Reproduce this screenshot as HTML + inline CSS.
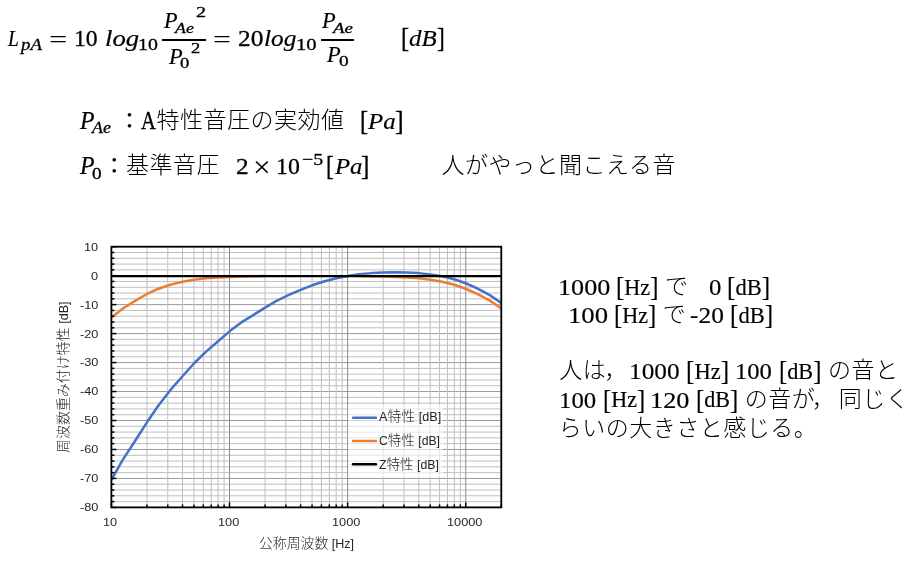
<!DOCTYPE html>
<html lang="ja"><head><meta charset="utf-8"><title>A特性音圧レベル</title>
<style>
html,body{margin:0;padding:0;background:#fff;}
body{width:924px;height:582px;position:relative;overflow:hidden;color:#000;
 font-family:"Liberation Serif","Noto Sans CJK JP",serif;}
#chart{position:absolute;left:0;top:0;}
.t{position:absolute;white-space:pre;line-height:1;transform-origin:0 0;color:#000;}
.it{font-family:"Liberation Serif","DejaVu Serif",serif;font-style:italic;}
.rm{font-family:"Liberation Serif","DejaVu Serif",serif;}
.jp{font-family:"Noto Sans CJK JP","Liberation Sans",sans-serif;font-weight:300;}
.br{font-size:1.12em;position:relative;top:0.04em;}
.cm{position:relative;left:-0.09em;}
.sa{font-family:"Liberation Sans","DejaVu Sans",sans-serif;color:#262626;}
.cj{font-family:"Noto Sans CJK JP","Liberation Sans",sans-serif;font-weight:300;font-size:1.11em;}
.bar{position:absolute;height:1.7px;background:#000;}
#txt{position:absolute;left:0;top:0;width:924px;height:582px;filter:grayscale(1);}
</style></head><body>
<svg id="chart" width="924" height="582" viewBox="0 0 924 582">
<g shape-rendering="auto"><line x1="111.4" x2="501.3" y1="246.70" y2="246.70" stroke="#9a9a9a" stroke-width="1"/><line x1="111.4" x2="501.3" y1="252.49" y2="252.49" stroke="#bfbfbf" stroke-width="1"/><line x1="111.4" x2="501.3" y1="258.29" y2="258.29" stroke="#bfbfbf" stroke-width="1"/><line x1="111.4" x2="501.3" y1="264.08" y2="264.08" stroke="#bfbfbf" stroke-width="1"/><line x1="111.4" x2="501.3" y1="269.87" y2="269.87" stroke="#bfbfbf" stroke-width="1"/><line x1="111.4" x2="501.3" y1="275.67" y2="275.67" stroke="#9a9a9a" stroke-width="1"/><line x1="111.4" x2="501.3" y1="281.46" y2="281.46" stroke="#bfbfbf" stroke-width="1"/><line x1="111.4" x2="501.3" y1="287.25" y2="287.25" stroke="#bfbfbf" stroke-width="1"/><line x1="111.4" x2="501.3" y1="293.05" y2="293.05" stroke="#bfbfbf" stroke-width="1"/><line x1="111.4" x2="501.3" y1="298.84" y2="298.84" stroke="#bfbfbf" stroke-width="1"/><line x1="111.4" x2="501.3" y1="304.63" y2="304.63" stroke="#9a9a9a" stroke-width="1"/><line x1="111.4" x2="501.3" y1="310.43" y2="310.43" stroke="#bfbfbf" stroke-width="1"/><line x1="111.4" x2="501.3" y1="316.22" y2="316.22" stroke="#bfbfbf" stroke-width="1"/><line x1="111.4" x2="501.3" y1="322.01" y2="322.01" stroke="#bfbfbf" stroke-width="1"/><line x1="111.4" x2="501.3" y1="327.81" y2="327.81" stroke="#bfbfbf" stroke-width="1"/><line x1="111.4" x2="501.3" y1="333.60" y2="333.60" stroke="#9a9a9a" stroke-width="1"/><line x1="111.4" x2="501.3" y1="339.39" y2="339.39" stroke="#bfbfbf" stroke-width="1"/><line x1="111.4" x2="501.3" y1="345.19" y2="345.19" stroke="#bfbfbf" stroke-width="1"/><line x1="111.4" x2="501.3" y1="350.98" y2="350.98" stroke="#bfbfbf" stroke-width="1"/><line x1="111.4" x2="501.3" y1="356.77" y2="356.77" stroke="#bfbfbf" stroke-width="1"/><line x1="111.4" x2="501.3" y1="362.57" y2="362.57" stroke="#9a9a9a" stroke-width="1"/><line x1="111.4" x2="501.3" y1="368.36" y2="368.36" stroke="#bfbfbf" stroke-width="1"/><line x1="111.4" x2="501.3" y1="374.15" y2="374.15" stroke="#bfbfbf" stroke-width="1"/><line x1="111.4" x2="501.3" y1="379.95" y2="379.95" stroke="#bfbfbf" stroke-width="1"/><line x1="111.4" x2="501.3" y1="385.74" y2="385.74" stroke="#bfbfbf" stroke-width="1"/><line x1="111.4" x2="501.3" y1="391.53" y2="391.53" stroke="#9a9a9a" stroke-width="1"/><line x1="111.4" x2="501.3" y1="397.33" y2="397.33" stroke="#bfbfbf" stroke-width="1"/><line x1="111.4" x2="501.3" y1="403.12" y2="403.12" stroke="#bfbfbf" stroke-width="1"/><line x1="111.4" x2="501.3" y1="408.91" y2="408.91" stroke="#bfbfbf" stroke-width="1"/><line x1="111.4" x2="501.3" y1="414.71" y2="414.71" stroke="#bfbfbf" stroke-width="1"/><line x1="111.4" x2="501.3" y1="420.50" y2="420.50" stroke="#9a9a9a" stroke-width="1"/><line x1="111.4" x2="501.3" y1="426.29" y2="426.29" stroke="#bfbfbf" stroke-width="1"/><line x1="111.4" x2="501.3" y1="432.09" y2="432.09" stroke="#bfbfbf" stroke-width="1"/><line x1="111.4" x2="501.3" y1="437.88" y2="437.88" stroke="#bfbfbf" stroke-width="1"/><line x1="111.4" x2="501.3" y1="443.67" y2="443.67" stroke="#bfbfbf" stroke-width="1"/><line x1="111.4" x2="501.3" y1="449.47" y2="449.47" stroke="#9a9a9a" stroke-width="1"/><line x1="111.4" x2="501.3" y1="455.26" y2="455.26" stroke="#bfbfbf" stroke-width="1"/><line x1="111.4" x2="501.3" y1="461.05" y2="461.05" stroke="#bfbfbf" stroke-width="1"/><line x1="111.4" x2="501.3" y1="466.85" y2="466.85" stroke="#bfbfbf" stroke-width="1"/><line x1="111.4" x2="501.3" y1="472.64" y2="472.64" stroke="#bfbfbf" stroke-width="1"/><line x1="111.4" x2="501.3" y1="478.43" y2="478.43" stroke="#9a9a9a" stroke-width="1"/><line x1="111.4" x2="501.3" y1="484.23" y2="484.23" stroke="#bfbfbf" stroke-width="1"/><line x1="111.4" x2="501.3" y1="490.02" y2="490.02" stroke="#bfbfbf" stroke-width="1"/><line x1="111.4" x2="501.3" y1="495.81" y2="495.81" stroke="#bfbfbf" stroke-width="1"/><line x1="111.4" x2="501.3" y1="501.61" y2="501.61" stroke="#bfbfbf" stroke-width="1"/><line x1="111.4" x2="501.3" y1="507.40" y2="507.40" stroke="#9a9a9a" stroke-width="1"/><line y1="246.7" y2="507.4" x1="111.40" x2="111.40" stroke="#8c8c8c" stroke-width="1"/><line y1="246.7" y2="507.4" x1="146.96" x2="146.96" stroke="#bfbfbf" stroke-width="1"/><line y1="246.7" y2="507.4" x1="167.76" x2="167.76" stroke="#bfbfbf" stroke-width="1"/><line y1="246.7" y2="507.4" x1="182.51" x2="182.51" stroke="#bfbfbf" stroke-width="1"/><line y1="246.7" y2="507.4" x1="193.96" x2="193.96" stroke="#bfbfbf" stroke-width="1"/><line y1="246.7" y2="507.4" x1="203.31" x2="203.31" stroke="#bfbfbf" stroke-width="1"/><line y1="246.7" y2="507.4" x1="211.22" x2="211.22" stroke="#bfbfbf" stroke-width="1"/><line y1="246.7" y2="507.4" x1="218.07" x2="218.07" stroke="#bfbfbf" stroke-width="1"/><line y1="246.7" y2="507.4" x1="224.11" x2="224.11" stroke="#bfbfbf" stroke-width="1"/><line y1="246.7" y2="507.4" x1="229.51" x2="229.51" stroke="#8c8c8c" stroke-width="1"/><line y1="246.7" y2="507.4" x1="265.07" x2="265.07" stroke="#bfbfbf" stroke-width="1"/><line y1="246.7" y2="507.4" x1="285.87" x2="285.87" stroke="#bfbfbf" stroke-width="1"/><line y1="246.7" y2="507.4" x1="300.63" x2="300.63" stroke="#bfbfbf" stroke-width="1"/><line y1="246.7" y2="507.4" x1="312.07" x2="312.07" stroke="#bfbfbf" stroke-width="1"/><line y1="246.7" y2="507.4" x1="321.43" x2="321.43" stroke="#bfbfbf" stroke-width="1"/><line y1="246.7" y2="507.4" x1="329.33" x2="329.33" stroke="#bfbfbf" stroke-width="1"/><line y1="246.7" y2="507.4" x1="336.18" x2="336.18" stroke="#bfbfbf" stroke-width="1"/><line y1="246.7" y2="507.4" x1="342.22" x2="342.22" stroke="#bfbfbf" stroke-width="1"/><line y1="246.7" y2="507.4" x1="347.63" x2="347.63" stroke="#8c8c8c" stroke-width="1"/><line y1="246.7" y2="507.4" x1="383.19" x2="383.19" stroke="#bfbfbf" stroke-width="1"/><line y1="246.7" y2="507.4" x1="403.98" x2="403.98" stroke="#bfbfbf" stroke-width="1"/><line y1="246.7" y2="507.4" x1="418.74" x2="418.74" stroke="#bfbfbf" stroke-width="1"/><line y1="246.7" y2="507.4" x1="430.19" x2="430.19" stroke="#bfbfbf" stroke-width="1"/><line y1="246.7" y2="507.4" x1="439.54" x2="439.54" stroke="#bfbfbf" stroke-width="1"/><line y1="246.7" y2="507.4" x1="447.45" x2="447.45" stroke="#bfbfbf" stroke-width="1"/><line y1="246.7" y2="507.4" x1="454.30" x2="454.30" stroke="#bfbfbf" stroke-width="1"/><line y1="246.7" y2="507.4" x1="460.34" x2="460.34" stroke="#bfbfbf" stroke-width="1"/><line y1="246.7" y2="507.4" x1="465.74" x2="465.74" stroke="#8c8c8c" stroke-width="1"/><line y1="246.7" y2="507.4" x1="501.30" x2="501.30" stroke="#bfbfbf" stroke-width="1"/></g>
<clipPath id="plot"><rect x="111.4" y="246.7" width="390.50" height="260.70"/></clipPath>
<g fill="none" stroke-linejoin="round" stroke-linecap="round" clip-path="url(#plot)">
<polyline points="111.40,479.94 122.85,459.67 135.51,440.26 146.96,422.30 158.40,405.50 170.26,390.15 182.51,376.24 193.96,363.50 205.81,351.91 218.07,341.19 229.51,331.34 240.96,322.65 253.62,314.83 265.07,307.59 276.52,300.93 288.37,295.13 300.63,289.92 312.07,285.29 323.93,281.52 336.18,278.33 347.63,276.02 359.08,274.28 371.74,273.12 383.19,272.54 394.63,272.25 406.49,272.54 418.74,273.12 430.19,274.57 442.04,276.31 454.30,279.20 465.74,283.26 477.19,288.47 489.85,295.13 501.30,302.96" stroke="#4472c4" stroke-width="2.5"/>
<polyline points="111.40,317.44 122.85,308.46 135.51,300.64 146.96,293.98 158.40,288.76 170.26,284.71 182.51,281.81 193.96,279.78 205.81,278.33 218.07,277.47 229.51,276.89 240.96,276.60 253.62,276.31 265.07,276.02" stroke="#ed7d31" stroke-width="2.5"/>
<polyline points="359.08,276.02 371.74,276.31 383.19,276.60 394.63,276.89 406.49,277.47 418.74,278.33 430.19,279.78 442.04,281.81 454.30,284.71 465.74,288.76 477.19,293.98 489.85,300.64 501.30,308.46" stroke="#ed7d31" stroke-width="2.5"/>
<line x1="111.4" x2="501.3" y1="276.05" y2="276.05" stroke="#000" stroke-width="2.35" stroke-linecap="butt"/>
</g>
<rect x="348" y="405" width="95" height="72" fill="#fff" fill-opacity="0.6"/>
<g stroke-width="2.4" stroke-linecap="round">
<line x1="353" x2="376" y1="417.7" y2="417.7" stroke="#4472c4"/>
<line x1="353" x2="376" y1="441" y2="441" stroke="#ed7d31"/>
<line x1="353" x2="376" y1="464.2" y2="464.2" stroke="#000"/>
</g>
<g><line x1="111.4" x2="116.4" y1="246.70" y2="246.70" stroke="#000" stroke-width="1.5"/><line x1="111.4" x2="114.4" y1="252.49" y2="252.49" stroke="#000" stroke-width="1.5"/><line x1="111.4" x2="114.4" y1="258.29" y2="258.29" stroke="#000" stroke-width="1.5"/><line x1="111.4" x2="114.4" y1="264.08" y2="264.08" stroke="#000" stroke-width="1.5"/><line x1="111.4" x2="114.4" y1="269.87" y2="269.87" stroke="#000" stroke-width="1.5"/><line x1="111.4" x2="116.4" y1="275.67" y2="275.67" stroke="#000" stroke-width="1.5"/><line x1="111.4" x2="114.4" y1="281.46" y2="281.46" stroke="#000" stroke-width="1.5"/><line x1="111.4" x2="114.4" y1="287.25" y2="287.25" stroke="#000" stroke-width="1.5"/><line x1="111.4" x2="114.4" y1="293.05" y2="293.05" stroke="#000" stroke-width="1.5"/><line x1="111.4" x2="114.4" y1="298.84" y2="298.84" stroke="#000" stroke-width="1.5"/><line x1="111.4" x2="116.4" y1="304.63" y2="304.63" stroke="#000" stroke-width="1.5"/><line x1="111.4" x2="114.4" y1="310.43" y2="310.43" stroke="#000" stroke-width="1.5"/><line x1="111.4" x2="114.4" y1="316.22" y2="316.22" stroke="#000" stroke-width="1.5"/><line x1="111.4" x2="114.4" y1="322.01" y2="322.01" stroke="#000" stroke-width="1.5"/><line x1="111.4" x2="114.4" y1="327.81" y2="327.81" stroke="#000" stroke-width="1.5"/><line x1="111.4" x2="116.4" y1="333.60" y2="333.60" stroke="#000" stroke-width="1.5"/><line x1="111.4" x2="114.4" y1="339.39" y2="339.39" stroke="#000" stroke-width="1.5"/><line x1="111.4" x2="114.4" y1="345.19" y2="345.19" stroke="#000" stroke-width="1.5"/><line x1="111.4" x2="114.4" y1="350.98" y2="350.98" stroke="#000" stroke-width="1.5"/><line x1="111.4" x2="114.4" y1="356.77" y2="356.77" stroke="#000" stroke-width="1.5"/><line x1="111.4" x2="116.4" y1="362.57" y2="362.57" stroke="#000" stroke-width="1.5"/><line x1="111.4" x2="114.4" y1="368.36" y2="368.36" stroke="#000" stroke-width="1.5"/><line x1="111.4" x2="114.4" y1="374.15" y2="374.15" stroke="#000" stroke-width="1.5"/><line x1="111.4" x2="114.4" y1="379.95" y2="379.95" stroke="#000" stroke-width="1.5"/><line x1="111.4" x2="114.4" y1="385.74" y2="385.74" stroke="#000" stroke-width="1.5"/><line x1="111.4" x2="116.4" y1="391.53" y2="391.53" stroke="#000" stroke-width="1.5"/><line x1="111.4" x2="114.4" y1="397.33" y2="397.33" stroke="#000" stroke-width="1.5"/><line x1="111.4" x2="114.4" y1="403.12" y2="403.12" stroke="#000" stroke-width="1.5"/><line x1="111.4" x2="114.4" y1="408.91" y2="408.91" stroke="#000" stroke-width="1.5"/><line x1="111.4" x2="114.4" y1="414.71" y2="414.71" stroke="#000" stroke-width="1.5"/><line x1="111.4" x2="116.4" y1="420.50" y2="420.50" stroke="#000" stroke-width="1.5"/><line x1="111.4" x2="114.4" y1="426.29" y2="426.29" stroke="#000" stroke-width="1.5"/><line x1="111.4" x2="114.4" y1="432.09" y2="432.09" stroke="#000" stroke-width="1.5"/><line x1="111.4" x2="114.4" y1="437.88" y2="437.88" stroke="#000" stroke-width="1.5"/><line x1="111.4" x2="114.4" y1="443.67" y2="443.67" stroke="#000" stroke-width="1.5"/><line x1="111.4" x2="116.4" y1="449.47" y2="449.47" stroke="#000" stroke-width="1.5"/><line x1="111.4" x2="114.4" y1="455.26" y2="455.26" stroke="#000" stroke-width="1.5"/><line x1="111.4" x2="114.4" y1="461.05" y2="461.05" stroke="#000" stroke-width="1.5"/><line x1="111.4" x2="114.4" y1="466.85" y2="466.85" stroke="#000" stroke-width="1.5"/><line x1="111.4" x2="114.4" y1="472.64" y2="472.64" stroke="#000" stroke-width="1.5"/><line x1="111.4" x2="116.4" y1="478.43" y2="478.43" stroke="#000" stroke-width="1.5"/><line x1="111.4" x2="114.4" y1="484.23" y2="484.23" stroke="#000" stroke-width="1.5"/><line x1="111.4" x2="114.4" y1="490.02" y2="490.02" stroke="#000" stroke-width="1.5"/><line x1="111.4" x2="114.4" y1="495.81" y2="495.81" stroke="#000" stroke-width="1.5"/><line x1="111.4" x2="114.4" y1="501.61" y2="501.61" stroke="#000" stroke-width="1.5"/><line x1="111.4" x2="116.4" y1="507.40" y2="507.40" stroke="#000" stroke-width="1.5"/><line y1="507.4" y2="502.4" x1="111.40" x2="111.40" stroke="#000" stroke-width="1.5"/><line y1="507.4" y2="504.4" x1="146.96" x2="146.96" stroke="#000" stroke-width="1.5"/><line y1="507.4" y2="504.4" x1="167.76" x2="167.76" stroke="#000" stroke-width="1.5"/><line y1="507.4" y2="504.4" x1="182.51" x2="182.51" stroke="#000" stroke-width="1.5"/><line y1="507.4" y2="504.4" x1="193.96" x2="193.96" stroke="#000" stroke-width="1.5"/><line y1="507.4" y2="504.4" x1="203.31" x2="203.31" stroke="#000" stroke-width="1.5"/><line y1="507.4" y2="504.4" x1="211.22" x2="211.22" stroke="#000" stroke-width="1.5"/><line y1="507.4" y2="504.4" x1="218.07" x2="218.07" stroke="#000" stroke-width="1.5"/><line y1="507.4" y2="504.4" x1="224.11" x2="224.11" stroke="#000" stroke-width="1.5"/><line y1="507.4" y2="502.4" x1="229.51" x2="229.51" stroke="#000" stroke-width="1.5"/><line y1="507.4" y2="504.4" x1="265.07" x2="265.07" stroke="#000" stroke-width="1.5"/><line y1="507.4" y2="504.4" x1="285.87" x2="285.87" stroke="#000" stroke-width="1.5"/><line y1="507.4" y2="504.4" x1="300.63" x2="300.63" stroke="#000" stroke-width="1.5"/><line y1="507.4" y2="504.4" x1="312.07" x2="312.07" stroke="#000" stroke-width="1.5"/><line y1="507.4" y2="504.4" x1="321.43" x2="321.43" stroke="#000" stroke-width="1.5"/><line y1="507.4" y2="504.4" x1="329.33" x2="329.33" stroke="#000" stroke-width="1.5"/><line y1="507.4" y2="504.4" x1="336.18" x2="336.18" stroke="#000" stroke-width="1.5"/><line y1="507.4" y2="504.4" x1="342.22" x2="342.22" stroke="#000" stroke-width="1.5"/><line y1="507.4" y2="502.4" x1="347.63" x2="347.63" stroke="#000" stroke-width="1.5"/><line y1="507.4" y2="504.4" x1="383.19" x2="383.19" stroke="#000" stroke-width="1.5"/><line y1="507.4" y2="504.4" x1="403.98" x2="403.98" stroke="#000" stroke-width="1.5"/><line y1="507.4" y2="504.4" x1="418.74" x2="418.74" stroke="#000" stroke-width="1.5"/><line y1="507.4" y2="504.4" x1="430.19" x2="430.19" stroke="#000" stroke-width="1.5"/><line y1="507.4" y2="504.4" x1="439.54" x2="439.54" stroke="#000" stroke-width="1.5"/><line y1="507.4" y2="504.4" x1="447.45" x2="447.45" stroke="#000" stroke-width="1.5"/><line y1="507.4" y2="504.4" x1="454.30" x2="454.30" stroke="#000" stroke-width="1.5"/><line y1="507.4" y2="504.4" x1="460.34" x2="460.34" stroke="#000" stroke-width="1.5"/><line y1="507.4" y2="502.4" x1="465.74" x2="465.74" stroke="#000" stroke-width="1.5"/><line y1="507.4" y2="504.4" x1="501.30" x2="501.30" stroke="#000" stroke-width="1.5"/></g>
<rect x="111.4" y="246.7" width="389.90" height="260.70" fill="none" stroke="#000" stroke-width="1.8"/>
</svg>
<div id="txt">
<div class="bar" style="left:162px;top:38.9px;width:43.9px"></div><div class="bar" style="left:321px;top:38.9px;width:32.9px"></div>
<!-- equation -->
<span class="t it" style="left:8.1px;top:25.88px;font-size:24.0px;transform:scaleX(0.808);-webkit-text-stroke:0.22px #000;">L</span>
<span class="t it" style="left:21.11px;top:36.3px;font-size:17.0px;transform:scaleX(1.105);-webkit-text-stroke:0.3px #000;">pA</span>
<span class="t rm" style="left:48.91px;top:26.8px;font-size:24.0px;transform:scaleX(1.351);">=</span>
<span class="t rm" style="left:74.33px;top:25.73px;font-size:24.0px;transform:scaleX(0.984);-webkit-text-stroke:0.32px #000;">10</span>
<span class="t it" style="left:105.41px;top:25.83px;font-size:24.0px;transform:scaleX(1.11);-webkit-text-stroke:0.22px #000;">log</span>
<span class="t rm" style="left:138.25px;top:36.45px;font-size:17.0px;transform:scaleX(1.167);-webkit-text-stroke:0.3px #000;">10</span>
<span class="t it" style="left:163.73px;top:8.12px;font-size:24.0px;transform:scaleX(0.926);-webkit-text-stroke:0.22px #000;">P</span>
<span class="t it" style="left:174.69px;top:20.5px;font-size:15.0px;transform:scaleX(1.188);-webkit-text-stroke:0.3px #000;">Ae</span>
<span class="t rm" style="left:196.03px;top:5.18px;font-size:15.0px;transform:scaleX(1.344);-webkit-text-stroke:0.3px #000;">2</span>
<span class="t it" style="left:168.83px;top:43.97px;font-size:24.0px;transform:scaleX(0.933);-webkit-text-stroke:0.22px #000;">P</span>
<span class="t rm" style="left:180.38px;top:55.75px;font-size:15.0px;transform:scaleX(1.246);-webkit-text-stroke:0.3px #000;">0</span>
<span class="t rm" style="left:191.28px;top:41.28px;font-size:15.0px;transform:scaleX(1.232);-webkit-text-stroke:0.3px #000;">2</span>
<span class="t rm" style="left:212.93px;top:26.8px;font-size:24.0px;transform:scaleX(1.333);">=</span>
<span class="t rm" style="left:237.54px;top:25.62px;font-size:24.0px;transform:scaleX(1.056);-webkit-text-stroke:0.32px #000;">20</span>
<span class="t it" style="left:263.88px;top:25.83px;font-size:24.0px;transform:scaleX(1.054);-webkit-text-stroke:0.22px #000;">log</span>
<span class="t rm" style="left:295.88px;top:36.4px;font-size:17.0px;transform:scaleX(1.213);-webkit-text-stroke:0.3px #000;">10</span>
<span class="t it" style="left:322.23px;top:8.23px;font-size:24.0px;transform:scaleX(0.933);-webkit-text-stroke:0.22px #000;">P</span>
<span class="t it" style="left:333.24px;top:20.55px;font-size:15.0px;transform:scaleX(1.255);-webkit-text-stroke:0.3px #000;">Ae</span>
<span class="t it" style="left:327.03px;top:42.02px;font-size:24.0px;transform:scaleX(0.933);-webkit-text-stroke:0.22px #000;">P</span>
<span class="t rm" style="left:338.85px;top:53.95px;font-size:15.0px;transform:scaleX(1.292);-webkit-text-stroke:0.3px #000;">0</span>
<span class="t rm" style="left:400.8px;top:25.1px;font-size:27.0px;transform:scaleX(0.9);-webkit-text-stroke:0.32px #000;">[</span>
<span class="t it" style="left:408.72px;top:25.6px;font-size:24.0px;transform:scaleX(1.035);-webkit-text-stroke:0.22px #000;">dB</span>
<span class="t rm" style="left:437.23px;top:25.1px;font-size:27.0px;transform:scaleX(0.867);-webkit-text-stroke:0.32px #000;">]</span>
<!-- definition 1 -->
<span class="t it" style="left:79.94px;top:108.9px;font-size:24.3px;transform:scaleX(0.979);-webkit-text-stroke:0.22px #000;">P</span>
<span class="t it" style="left:91.95px;top:119.03px;font-size:17.0px;transform:scaleX(1.054);-webkit-text-stroke:0.3px #000;">Ae</span>
<span class="t jp" style="left:118.8px;top:107.7px;font-size:21.5px;font-weight:500;">：</span>
<span class="t rm" style="left:141.19px;top:109.07px;font-size:24.2px;transform:scaleX(0.847);-webkit-text-stroke:0.32px #000;">A</span>
<span class="t jp" style="left:156.53px;top:107.12px;font-size:23.0px;letter-spacing:0.5px;">特性音圧の実効値</span>
<span class="t rm" style="left:360.27px;top:108.1px;font-size:26.6px;transform:scaleX(0.917);-webkit-text-stroke:0.32px #000;">[</span>
<span class="t it" style="left:368.46px;top:109.2px;font-size:24.0px;transform:scaleX(1.035);-webkit-text-stroke:0.22px #000;">Pa</span>
<span class="t rm" style="left:395.02px;top:108.1px;font-size:26.6px;transform:scaleX(0.983);-webkit-text-stroke:0.32px #000;">]</span>
<!-- definition 2 -->
<span class="t it" style="left:79.94px;top:153.9px;font-size:24.3px;transform:scaleX(0.979);-webkit-text-stroke:0.22px #000;">P</span>
<span class="t rm" style="left:92.0px;top:165.53px;font-size:16.0px;transform:scaleX(1.2);-webkit-text-stroke:0.3px #000;">0</span>
<span class="t jp" style="left:103.45px;top:152.7px;font-size:21.5px;font-weight:500;">：</span>
<span class="t jp" style="left:126.0px;top:152.25px;font-size:23.0px;letter-spacing:0.5px;">基準音圧</span>
<span class="t rm" style="left:235.84px;top:154.15px;font-size:24.0px;transform:scaleX(1.056);-webkit-text-stroke:0.32px #000;">2</span>
<span class="t rm" style="left:252.87px;top:152.62px;font-size:29.0px;transform:scaleX(1.081);">×</span>
<span class="t rm" style="left:276.31px;top:154.12px;font-size:24.0px;transform:scaleX(0.993);-webkit-text-stroke:0.32px #000;">10</span>
<span class="t rm" style="left:302.13px;top:151.38px;font-size:17.0px;transform:scaleX(1.164);-webkit-text-stroke:0.3px #000;">−5</span>
<span class="t rm" style="left:325.63px;top:153.25px;font-size:26.6px;transform:scaleX(0.883);-webkit-text-stroke:0.32px #000;">[</span>
<span class="t it" style="left:334.56px;top:154.3px;font-size:24.0px;transform:scaleX(1.031);-webkit-text-stroke:0.22px #000;">Pa</span>
<span class="t rm" style="left:360.95px;top:153.25px;font-size:26.6px;transform:scaleX(0.95);-webkit-text-stroke:0.32px #000;">]</span>
<span class="t jp" style="left:441.6px;top:152.12px;font-size:23.0px;letter-spacing:0.5px;">人がやっと聞こえる音</span>
<!-- notes -->
<span class="t rm" style="left:557.72px;top:274.98px;font-size:24.0px;transform:scaleX(1.09);-webkit-text-stroke:0.18px #000;">1000</span>
<span class="t rm" style="left:615.95px;top:273.0px;font-size:24.0px;transform:scaleX(0.924);-webkit-text-stroke:0.18px #000;"><span class="br">[</span>Hz<span class="br">]</span></span>
<span class="t jp" style="left:664.98px;top:272.77px;font-size:23.0px;">で</span>
<span class="t rm" style="left:708.83px;top:275.32px;font-size:24.0px;transform:scaleX(1.029);-webkit-text-stroke:0.18px #000;">0</span>
<span class="t rm" style="left:727.02px;top:273.0px;font-size:24.0px;transform:scaleX(0.938);-webkit-text-stroke:0.18px #000;"><span class="br">[</span>dB<span class="br">]</span></span>
<span class="t rm" style="left:568.17px;top:303.38px;font-size:24.0px;transform:scaleX(1.113);-webkit-text-stroke:0.18px #000;">100</span>
<span class="t rm" style="left:613.56px;top:301.0px;font-size:24.0px;transform:scaleX(0.921);-webkit-text-stroke:0.18px #000;"><span class="br">[</span>Hz<span class="br">]</span></span>
<span class="t jp" style="left:662.67px;top:300.83px;font-size:23.0px;">で</span>
<span class="t rm" style="left:690.11px;top:303.38px;font-size:24.0px;transform:scaleX(1.059);-webkit-text-stroke:0.18px #000;">-20</span>
<span class="t rm" style="left:729.82px;top:301.0px;font-size:24.0px;transform:scaleX(0.938);-webkit-text-stroke:0.18px #000;"><span class="br">[</span>dB<span class="br">]</span></span>
<span class="t jp" style="left:559.3px;top:357.23px;font-size:23.0px;letter-spacing:0.5px;">人は<span class="cm">，</span></span>
<span class="t rm" style="left:628.69px;top:358.82px;font-size:24.0px;transform:scaleX(1.054);-webkit-text-stroke:0.18px #000;">1000</span>
<span class="t rm" style="left:685.62px;top:356.6px;font-size:24.0px;transform:scaleX(0.94);-webkit-text-stroke:0.18px #000;"><span class="br">[</span>Hz<span class="br">]</span></span>
<span class="t rm" style="left:734.65px;top:358.82px;font-size:24.0px;transform:scaleX(1.026);-webkit-text-stroke:0.18px #000;">100</span>
<span class="t rm" style="left:779.25px;top:356.6px;font-size:24.0px;transform:scaleX(0.924);-webkit-text-stroke:0.18px #000;"><span class="br">[</span>dB<span class="br">]</span></span>
<span class="t jp" style="left:828.0px;top:357.23px;font-size:23.0px;letter-spacing:0.5px;">の音と</span>
<span class="t rm" style="left:558.64px;top:387.58px;font-size:24.0px;transform:scaleX(1.032);-webkit-text-stroke:0.18px #000;">100</span>
<span class="t rm" style="left:603.16px;top:385.45px;font-size:24.0px;transform:scaleX(0.919);-webkit-text-stroke:0.18px #000;"><span class="br">[</span>Hz<span class="br">]</span></span>
<span class="t rm" style="left:649.81px;top:387.58px;font-size:24.0px;transform:scaleX(1.095);-webkit-text-stroke:0.18px #000;">120</span>
<span class="t rm" style="left:695.86px;top:385.45px;font-size:24.0px;transform:scaleX(0.921);-webkit-text-stroke:0.18px #000;"><span class="br">[</span>dB<span class="br">]</span></span>
<span class="t jp" style="left:744.75px;top:386.07px;font-size:23.0px;letter-spacing:0.5px;">の音が<span class="cm">，</span></span>
<span class="t jp" style="left:838.77px;top:386.07px;font-size:23.0px;letter-spacing:0.5px;">同じく</span>
<span class="t jp" style="left:558.67px;top:414.73px;font-size:23.0px;letter-spacing:0.5px;">らいの大きさと感じる。</span>
<!-- chart axis labels -->
<span class="t sa" style="left:84.43px;top:241.6px;font-size:11.8px;transform:scaleX(1.08);">10</span>
<span class="t sa" style="left:91.45px;top:270.57px;font-size:11.8px;transform:scaleX(1.08);">0</span>
<span class="t sa" style="left:80.11px;top:299.53px;font-size:11.8px;transform:scaleX(1.08);">-10</span>
<span class="t sa" style="left:80.11px;top:328.5px;font-size:11.8px;transform:scaleX(1.08);">-20</span>
<span class="t sa" style="left:80.11px;top:357.47px;font-size:11.8px;transform:scaleX(1.08);">-30</span>
<span class="t sa" style="left:80.11px;top:386.43px;font-size:11.8px;transform:scaleX(1.08);">-40</span>
<span class="t sa" style="left:80.11px;top:415.4px;font-size:11.8px;transform:scaleX(1.08);">-50</span>
<span class="t sa" style="left:80.11px;top:444.37px;font-size:11.8px;transform:scaleX(1.08);">-60</span>
<span class="t sa" style="left:80.11px;top:473.33px;font-size:11.8px;transform:scaleX(1.08);">-70</span>
<span class="t sa" style="left:80.11px;top:502.3px;font-size:11.8px;transform:scaleX(1.08);">-80</span>
<span class="t sa" style="left:103.21px;top:517.25px;font-size:11.8px;transform:scaleX(1.08);">10</span>
<span class="t sa" style="left:217.81px;top:517.25px;font-size:11.8px;transform:scaleX(1.08);">100</span>
<span class="t sa" style="left:332.42px;top:517.25px;font-size:11.8px;transform:scaleX(1.08);">1000</span>
<span class="t sa" style="left:446.89px;top:517.25px;font-size:11.8px;transform:scaleX(1.08);">10000</span>
<!-- legend labels -->
<span class="t sa" style="left:378.9px;top:409.07px;font-size:12.0px;transform:scaleX(1.048);">A<span class="cj">特性</span> [dB]</span>
<span class="t sa" style="left:379.19px;top:432.73px;font-size:12.0px;transform:scaleX(1.016);">C<span class="cj">特性</span> [dB]</span>
<span class="t sa" style="left:379.45px;top:456.57px;font-size:12.0px;transform:scaleX(1.02);">Z<span class="cj">特性</span> [dB]</span>
<!-- x axis title -->
<span class="t sa" style="left:258.52px;top:535.98px;font-size:12.0px;transform:scaleX(1.042);"><span class="cj">公称周波数</span> [Hz]</span>
<!-- y axis title -->
<span class="t sa" style="left:55.97px;top:452.52px;font-size:12.0px;transform:rotate(-90deg) scaleX(1.049);"><span class="cj">周波数重み付け特性</span> [dB]</span>
</div>
</body></html>
